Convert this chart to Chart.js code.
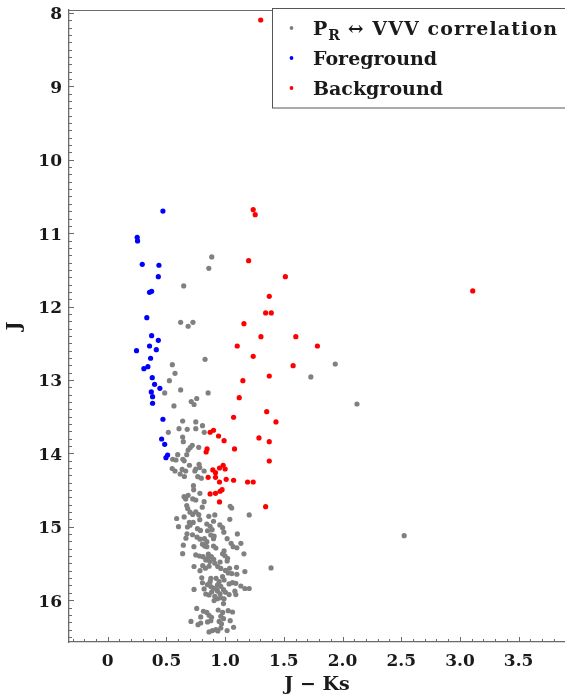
<!DOCTYPE html>
<html><head><meta charset="utf-8">
<script src="https://cdn.jsdelivr.net/npm/chart.js@4.4.1/dist/chart.umd.min.js"></script>
<style>html,body{margin:0;padding:0;background:#fff;overflow:hidden}</style>
</head><body>
<canvas id="c" width="565" height="697"></canvas>
<script>
// ---------- DATA ----------
const seriesLabels = ['P_{R} ↔ VVV correlation', 'Foreground', 'Background'];
const xTickValues = [0, 0.5, 1, 1.5, 2, 2.5, 3, 3.5];
const xTickLabels = ['0', '0.5', '1.0', '1.5', '2.0', '2.5', '3.0', '3.5'];
const yTickValues = [8, 9, 10, 11, 12, 13, 14, 15, 16];
const yTickLabels = ['8', '9', '10', '11', '12', '13', '14', '15', '16'];

const grayJK = [0.886,0.861,0.647,0.621,0.685,0.726,0.829,1.938,1.730,2.123,2.525,0.550,0.573,0.525,0.621,0.485,0.855,0.758,0.711,0.735,0.564,
0.638,0.750,0.807,0.607,0.677,0.750,0.822,0.516,0.638,0.644,0.720,0.703,0.685,0.775,0.596,0.673,0.553,0.581,0.640,0.651,0.696,0.778,0.784,0.549,0.573,
0.634,0.664,0.617,0.653,0.742,0.750,0.821,0.767,0.797,0.730,0.732,0.785,0.650,0.664,0.685,0.724,0.750,0.821,0.673,0.681,0.805,1.043,1.056,1.205,
0.587,0.651,0.701,0.724,0.750,0.775,0.861,0.912,1.040,0.784,0.901,0.695,0.728,0.844,0.603,0.679,0.701,0.872,0.955,0.764,0.790,0.850,0.889,0.978,0.989,
0.675,0.722,0.878,0.906,1.104,0.666,0.761,0.786,0.824,0.844,0.901,1.017,0.644,0.734,0.807,0.826,0.844,0.901,0.921,1.051,1.068,1.134,1.100,0.991,
0.638,0.750,0.781,0.811,0.857,0.882,0.978,0.999,1.160,1.021,0.850,0.835,0.869,0.903,0.912,0.957,1.017,0.735,0.809,0.832,0.863,0.937,0.963,0.786,
1.003,1.038,1.026,1.097,1.057,1.100,1.168,1.391,0.801,0.807,0.878,0.872,0.923,0.949,0.935,0.978,0.991,1.063,1.091,1.134,1.168,1.205,1.034,0.850,
0.878,0.901,0.963,0.929,0.986,0.821,0.835,0.735,0.886,0.863,0.935,0.957,1.003,1.034,1.083,1.091,0.912,0.935,0.963,0.991,0.906,0.986,0.758,0.815,
0.844,0.941,0.979,1.026,1.063,0.792,0.863,0.884,0.963,0.986,0.709,0.769,0.792,0.850,0.878,0.949,0.969,1.043,1.072,0.863,0.892,0.921,0.938,1.017,0.963];
const grayJ = [11.324,11.478,11.719,12.214,12.268,12.214,12.718,12.782,12.959,13.327,15.121,12.792,12.909,13.010,13.136,13.177,13.177,13.252,13.293,13.334,13.354,
13.559,13.572,13.623,13.663,13.672,13.663,13.713,13.713,13.777,13.841,13.890,13.920,13.954,13.917,14.018,14.018,14.080,14.090,14.080,14.101,14.162,14.149,14.194,14.206,14.240,
14.219,14.240,14.281,14.315,14.240,14.213,14.240,14.317,14.338,14.440,14.496,14.544,14.590,14.621,14.571,14.621,14.635,14.658,14.710,14.751,14.733,14.721,14.744,14.839,
14.887,14.866,14.801,14.832,14.796,14.835,14.857,14.839,14.898,14.903,14.925,14.941,14.941,14.962,14.999,15.003,14.979,14.994,14.975,15.026,15.050,15.054,15.039,15.012,15.074,
15.095,15.109,15.112,15.128,15.098,15.155,15.142,15.169,15.162,15.203,15.163,15.162,15.251,15.271,15.237,15.262,15.271,15.262,15.289,15.225,15.271,15.225,15.286,15.329,
15.366,15.384,15.398,15.407,15.373,15.407,15.368,15.395,15.368,15.429,15.429,15.452,15.473,15.445,15.497,15.480,15.466,15.541,15.530,15.564,15.538,15.541,15.568,15.598,
15.595,15.565,15.629,15.552,15.638,15.647,15.610,15.561,15.695,15.763,15.704,15.748,15.702,15.748,15.793,15.680,15.725,15.762,15.770,15.807,15.841,15.841,15.779,15.789,
15.814,15.834,15.811,15.857,15.857,15.847,15.916,15.854,15.887,15.928,15.876,15.913,15.892,15.924,15.878,15.924,15.948,15.981,15.967,15.981,16.005,16.046,16.113,16.151,
16.167,16.134,16.167,16.143,16.161,16.229,16.206,16.233,16.219,16.252,16.290,16.334,16.311,16.297,16.279,16.290,16.322,16.279,16.369,16.433,16.415,16.401,16.419,16.414,16.379];

const blueJK = [0.470,0.251,0.254,0.294,0.436,0.431,0.356,0.374,0.333,0.374,0.431,0.356,0.245,0.414,0.365,0.342,0.308,0.379,0.399,0.444,0.371,0.382,0.382,0.470,0.459,0.485,0.510,0.496];
const blueJ = [10.698,11.056,11.106,11.424,11.437,11.593,11.805,11.792,12.151,12.396,12.459,12.537,12.601,12.587,12.704,12.819,12.846,12.969,13.059,13.113,13.163,13.228,13.317,13.535,13.804,13.876,14.022,14.059];

const redJK = [1.303,1.239,1.256,1.200,1.513,3.109,1.376,1.345,1.393,1.160,1.305,1.602,1.786,1.103,1.239,1.579,1.376,1.151,1.120,1.354,1.433,1.072,1.288,1.376,1.376,
0.872,0.901,0.944,0.991,1.080,0.846,0.838,0.895,0.918,0.952,0.983,1.000,0.855,0.918,0.952,1.009,1.072,1.191,1.239,0.872,0.918,0.957,0.974,0.952,1.345];
const redJ = [8.095,10.680,10.748,11.375,11.593,11.787,11.860,12.087,12.087,12.233,12.410,12.410,12.537,12.537,12.677,12.805,12.946,13.010,13.241,13.432,13.572,13.508,13.790,13.841,14.104,
13.712,13.685,13.763,13.827,13.940,13.940,13.981,14.226,14.263,14.199,14.162,14.213,14.326,14.326,14.390,14.353,14.366,14.390,14.390,14.553,14.544,14.516,14.495,14.662,14.726];

// ---------- CHART ----------
const pts = (xs, ys) => xs.map((v, i) => ({x: v, y: ys[i]}));
const FONT = "'DejaVu Serif', 'Liberation Serif', serif";
const AXIS = '#6a6a6a';

function drawRich(ctx, text, x, y, size) {
  // supports one "_{...}" subscript group
  const m = text.match(/_\{([^}]*)\}/);
  ctx.font = 'bold ' + size + 'px ' + FONT;
  ctx.textBaseline = 'alphabetic';
  ctx.textAlign = 'left';
  if (!m) { ctx.fillText(text, x, y); return; }
  const before = text.slice(0, m.index), sub = m[1], after = text.slice(m.index + m[0].length);
  ctx.fillText(before, x, y); x += ctx.measureText(before).width;
  ctx.font = 'bold ' + Math.round(size * 0.72) + 'px ' + FONT;
  ctx.fillText(sub, x + 1, y + size * 0.25); x += ctx.measureText(sub).width + 1;
  ctx.font = 'bold ' + size + 'px ' + FONT;
  ctx.letterSpacing = '1.1px';
  ctx.fillText(after, x, y);
  ctx.letterSpacing = '0px';
}

const decor = {
  id: 'decor',
  beforeDatasetsDraw(chart) {
    const {ctx, chartArea: a, scales: {x, y}} = chart;
    ctx.save();
    ctx.strokeStyle = AXIS; ctx.lineWidth = 1;
    ctx.beginPath();
    ctx.moveTo(a.left, a.top + 0.5); ctx.lineTo(a.right, a.top + 0.5);
    for (let k = -3; k <= 39; k++) {
      const px = Math.round(x.getPixelForValue(k / 10)) + 0.5;
      const len = (k % 5 === 0) ? 5 : 3;
      ctx.moveTo(px, a.bottom); ctx.lineTo(px, a.bottom - len);
    }
    for (let k = 80; k <= 165; k++) {
      const py = Math.round(y.getPixelForValue(k / 10)) + 0.5;
      const len = (k % 10 === 0) ? 5 : 3;
      ctx.moveTo(a.left, py); ctx.lineTo(a.left + len, py);
    }
    ctx.stroke();
    ctx.restore();
  },
  afterDraw(chart) {
    const ctx = chart.ctx;
    ctx.save();
    ctx.fillStyle = '#fff';
    ctx.fillRect(273, 9, 300, 99);
    ctx.strokeStyle = '#555'; ctx.lineWidth = 1;
    ctx.strokeRect(272.5, 8.5, 310, 99.5);
    const rows = [28, 58, 88];
    chart.data.datasets.forEach((ds, i) => {
      ctx.fillStyle = ds.backgroundColor;
      ctx.beginPath(); ctx.arc(291.5, rows[i], 1.9, 0, Math.PI * 2); ctx.fill();
      ctx.fillStyle = '#1a1a1a';
      drawRich(ctx, ds.label, 313, rows[i] + 7, 19);
    });
    ctx.restore();
  }
};

new Chart(document.getElementById('c'), {
  type: 'scatter',
  data: {
    datasets: [
      {label: seriesLabels[0], data: pts(grayJK, grayJ), backgroundColor: '#808080', pointRadius: 2.6, pointBorderWidth: 0, order: 3},
      {label: seriesLabels[1], data: pts(blueJK, blueJ), backgroundColor: '#0000ff', pointRadius: 2.6, pointBorderWidth: 0, order: 2},
      {label: seriesLabels[2], data: pts(redJK, redJ), backgroundColor: '#ff0000', pointRadius: 2.6, pointBorderWidth: 0, order: 1}
    ]
  },
  options: {
    responsive: false, animation: false,
    layout: {autoPadding: false, padding: {top: 10, left: 0, right: 0, bottom: 0}},
    plugins: {legend: {display: false}, tooltip: {enabled: false}},
    scales: {
      x: {
        type: 'linear', min: -0.33, max: 3.895,
        afterBuildTicks: s => { s.ticks = xTickValues.map(v => ({value: v})); },
        afterFit: s => { s.height = 55; s.paddingLeft = 0; s.paddingRight = 0; },
        border: {display: true, color: AXIS, width: 1.3},
        grid: {display: false, drawTicks: false},
        ticks: {padding: 9, color: '#1a1a1a', font: {family: FONT, weight: 'bold', size: 17},
                callback: (v) => xTickLabels[xTickValues.indexOf(v)], maxRotation: 0, autoSkip: false},
        title: {display: true, text: 'J − Ks', color: '#1a1a1a', font: {family: FONT, weight: 'bold', size: 19}, padding: {top: 0, bottom: 1}}
      },
      y: {
        type: 'linear', reverse: true, min: 7.959, max: 16.57,
        afterBuildTicks: s => { s.ticks = yTickValues.map(v => ({value: v})); },
        afterFit: s => { s.width = 69; s.paddingTop = 0; s.paddingBottom = 0; },
        border: {display: true, color: AXIS, width: 1.3},
        grid: {display: false, drawTicks: false},
        ticks: {padding: 7, labelOffset: 2, color: '#1a1a1a', font: {family: FONT, weight: 'bold', size: 17},
                callback: (v) => yTickLabels[yTickValues.indexOf(v)], autoSkip: false},
        title: {display: true, text: 'J', color: '#1a1a1a', font: {family: FONT, weight: 'bold', size: 19}, padding: {top: 4, bottom: 0}}
      }
    }
  },
  plugins: [decor]
});
</script>
</body></html>
